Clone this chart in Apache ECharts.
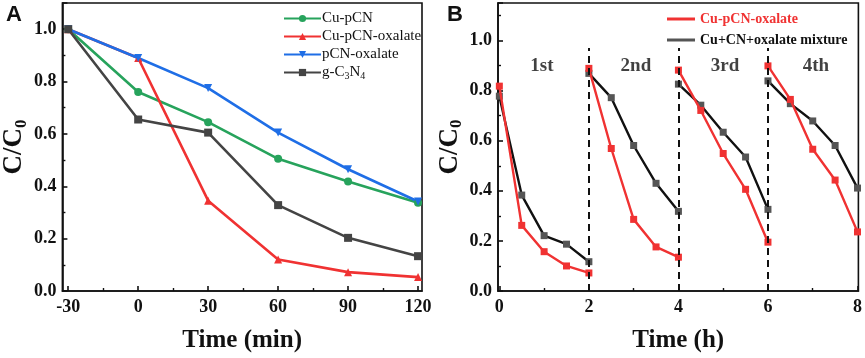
<!doctype html>
<html>
<head>
    <meta charset="utf-8">
    <title>C/C0 degradation</title>
    <script type="text/javascript" src="https://cdn.jsdelivr.net/npm/echarts@6/dist/echarts.min.js"></script>
</head>
<body style="margin:0;padding:0">
    <div id="tb" style="width:865px;height:358px"></div>
    <script>
        // ---- panel A data ----
        var timeA = [-30, 0, 30, 60, 90, 120];
        var cuPCN = [1.0, 0.76, 0.645, 0.505, 0.418, 0.337];
        var cuPCNOxalate = [1.0, 0.89, 0.345, 0.12, 0.072, 0.053];
        var pCNOxalate = [1.0, 0.89, 0.775, 0.605, 0.465, 0.342];
        var gC3N4 = [1.0, 0.655, 0.605, 0.328, 0.203, 0.133];
        var ticksA = [-30, 0, 30, 60, 90, 120];
        var minorTicksA = [-15, 15, 45, 75, 105];

        // ---- panel B data (4 cycles, 0.5 h step) ----
        var timeB = [
            [0, 0.5, 1, 1.5, 2],
            [2, 2.5, 3, 3.5, 4],
            [4, 4.5, 5, 5.5, 6],
            [6, 6.5, 7, 7.5, 8]
        ];
        var redB = [
            [0.818, 0.262, 0.157, 0.100, 0.072],
            [0.889, 0.569, 0.286, 0.176, 0.135],
            [0.882, 0.721, 0.549, 0.406, 0.195],
            [0.899, 0.765, 0.566, 0.443, 0.236]
        ];
        var blackB = [
            [0.778, 0.383, 0.221, 0.187, 0.117],
            [0.869, 0.772, 0.581, 0.430, 0.318],
            [0.826, 0.742, 0.634, 0.535, 0.326],
            [0.839, 0.748, 0.679, 0.581, 0.411]
        ];
        var cycleBreaks = [2, 4, 6];
        var cycleNames = ['1st', '2nd', '3rd', '4th'];
        var cycleNameX = [0.95, 3.05, 5.04, 7.07];
        var cycleNameY = 0.9;
        var ticksB = [0, 2, 4, 6, 8];
        var minorTicksB = [1, 3, 5, 7];

        var serif = "'Liberation Serif','Times New Roman',serif";
        var pair = function (xs, ys) {
            return xs.map(function (x, i) { return [x, ys[i]]; });
        };

        var chart = echarts.init(document.getElementById('tb'));

        var axisBase = {
            type: 'value',
            axisLine: { show: true, onZero: false, lineStyle: { color: '#111', width: 1.6 } },
            splitLine: { show: false }
        };

        function xMain(grid, min, max, ticks, name) {
            return Object.assign({}, axisBase, {
                gridIndex: grid, min: min, max: max,
                name: name, nameLocation: 'middle', nameGap: 37,
                nameTextStyle: { fontFamily: serif, fontWeight: 'bold', fontSize: 25, color: '#111' },
                axisTick: { inside: true, length: 5, customValues: ticks, lineStyle: { color: '#111', width: 1.6 } },
                axisLabel: { customValues: ticks, fontFamily: serif, fontWeight: 'bold', fontSize: 18, color: '#111', margin: 7 }
            });
        }
        function xMinor(grid, min, max, ticks) {
            return {
                type: 'value', gridIndex: grid, min: min, max: max, position: 'bottom',
                axisLine: { show: false }, splitLine: { show: false }, axisLabel: { show: false },
                axisTick: { inside: true, length: 3, customValues: ticks, lineStyle: { color: '#111', width: 1.4 } }
            };
        }
        function yAxis(grid, max) {
            return Object.assign({}, axisBase, {
                gridIndex: grid, min: 0, max: max, interval: 0.2,
                name: 'C/C{sub|0}', nameLocation: 'middle', nameGap: 30, nameRotate: 90,
                nameTextStyle: {
                    fontFamily: serif, fontWeight: 'bold', fontSize: 27, color: '#111',
                    rich: { sub: { fontFamily: serif, fontWeight: 'bold', fontSize: 17, color: '#111', verticalAlign: 'bottom', padding: [14, 0, 0, 0] } }
                },
                axisTick: { inside: true, length: 5, lineStyle: { color: '#111', width: 1.6 } },
                minorTick: { show: true, splitNumber: 2, length: 3, lineStyle: { color: '#111', width: 1.4 } },
                axisLabel: {
                    fontFamily: serif, fontWeight: 'bold', fontSize: 18, color: '#111', margin: 6, showMaxLabel: false,
                    formatter: function (v) { return Math.abs(v * 5 - Math.round(v * 5)) < 1e-6 ? v.toFixed(1) : ''; }
                }
            });
        }

        function lineA(name, data, color, symbol, rotate) {
            return {
                name: name, type: 'line', xAxisIndex: 0, yAxisIndex: 0,
                data: pair(timeA, data),
                symbol: symbol, symbolSize: 8, symbolRotate: rotate || 0,
                lineStyle: { color: color, width: 2.6 },
                itemStyle: { color: color },
                z: 3
            };
        }

        var series = [
            lineA('Cu-pCN', cuPCN, '#27a35c', 'circle'),
            lineA('Cu-pCN-oxalate', cuPCNOxalate, '#f03232', 'triangle'),
            lineA('pCN-oxalate', pCNOxalate, '#1f6ee6', 'triangle', 180),
            lineA('g-C3N4', gC3N4, '#444444', 'rect')
        ];

        for (var c = 0; c < timeB.length; c++) {
            series.push({
                name: 'Cu+CN+oxalate mixture', type: 'line', xAxisIndex: 2, yAxisIndex: 1,
                data: pair(timeB[c], blackB[c]),
                symbol: 'rect', symbolSize: 7,
                lineStyle: { color: '#111', width: 2.4 },
                itemStyle: { color: '#555' }, z: 3
            });
            series.push({
                name: 'Cu-pCN-oxalate ', type: 'line', xAxisIndex: 2, yAxisIndex: 1,
                data: pair(timeB[c], redB[c]),
                symbol: 'rect', symbolSize: 7,
                lineStyle: { color: '#f03232', width: 2.4 },
                itemStyle: { color: '#f03232' }, z: 4
            });
        }

        // cycle separators and labels
        series.push({
            type: 'scatter', xAxisIndex: 2, yAxisIndex: 1, symbolSize: 0, silent: true,
            data: cycleNameX.map(function (x, i) { return { value: [x, cycleNameY], name: cycleNames[i] }; }),
            label: { show: true, position: 'inside', formatter: '{b}', fontFamily: serif, fontWeight: 'bold', fontSize: 19, color: '#111' },
            markLine: {
                silent: true, symbol: 'none', label: { show: false },
                lineStyle: { color: '#111', type: [7, 5], width: 2 },
                data: cycleBreaks.map(function (x) { return [{ coord: [x, 0] }, { coord: [x, 0.97] }]; })
            }
        });

        chart.setOption({
            animation: false,
            grid: [
                { left: 59, right: 443, top: 3, bottom: 63, show: true, borderColor: '#111', borderWidth: 1.6 },
                { left: 498, right: 6, top: 3, bottom: 63, show: true, borderColor: '#111', borderWidth: 1.6 }
            ],
            xAxis: [
                xMain(0, -32.5, 121.7, ticksA, 'Time (min)'),
                xMinor(0, -32.5, 121.7, minorTicksA),
                xMain(1, -0.03, 8.02, ticksB, 'Time (h)'),
                xMinor(1, -0.03, 8.02, minorTicksB)
            ],
            yAxis: [yAxis(0, 1.1), yAxis(1, 1.15)],
            legend: [{
                data: ['Cu-pCN', 'Cu-pCN-oxalate', 'pCN-oxalate', 'g-C3N4'],
                orient: 'vertical', left: 278, top: 6, itemWidth: 37, itemHeight: 9, itemGap: 3,
                formatter: function (n) { return n === 'g-C3N4' ? 'g-C{s|3}N{s|4}' : n; },
                textStyle: {
                    fontFamily: serif, fontSize: 15, color: '#111', padding: [0, 0, 0, -4],
                    rich: { s: { fontFamily: serif, fontSize: 10, color: '#111', verticalAlign: 'bottom', padding: [8, 0, 0, 0] } }
                }
            }, {
                data: [
                    { name: 'Cu-pCN-oxalate ', textStyle: { color: '#f03232' } },
                    { name: 'Cu+CN+oxalate mixture' }
                ],
                orient: 'vertical', left: 662, top: 7, icon: 'rect', itemWidth: 28, itemHeight: 3, itemGap: 7,
                textStyle: { fontFamily: serif, fontWeight: 'bold', fontSize: 14, color: '#111' }
            }],
            graphic: [
                { type: 'text', left: 6, top: 4, style: { text: 'A', font: "bold 22px 'Liberation Sans', Arial, sans-serif", fill: '#111' } },
                { type: 'text', left: 447, top: 4, style: { text: 'B', font: "bold 22px 'Liberation Sans', Arial, sans-serif", fill: '#111' } }
            ],
            series: series
        });
    </script>
</body>
</html>
